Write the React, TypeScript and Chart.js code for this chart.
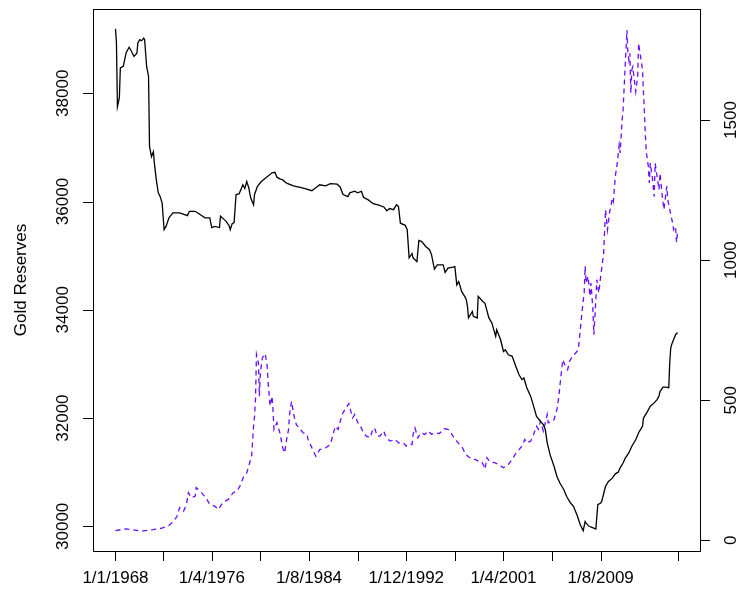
import { useEffect, useRef } from "react";
import { Chart, registerables } from "chart.js";

Chart.register(...registerables);

// Gold reserves (left axis) — index = month number from 1/1/1968
const reserveIdx = [1,2,3,5,6,9,12,15,17,20,23,24,26,28,30,31,33,35,36,38,40,41,43,45,47,49,51,53,56,60,67,75,77,83,88,93,98,100,103,108,109,112,115,118,119,121,123,125,128,130,132,134,136,138,140,143,144,147,151,157,162,165,167,170,173,177,184,191,196,203,208,211,217,222,229,232,235,240,242,247,250,254,256,261,266,271,277,280,283,287,290,292,294,299,301,303,306,307,311,313,316,320,324,326,329,332,338,340,343,348,350,352,354,357,361,362,363,364,368,369,373,374,379,381,385,388,392,393,397,400,402,405,409,412,416,419,421,424,428,431,434,438,441,443,445,448,452,455,458,462,465,469,472,476,479,482,484,485,488,491,495,497,500,501,505,508,512,515,518,520,523,525,529,532,536,539,543,544,548,551,555,558,560,561,564,567,570,571,572,573,575,577,579];
const reserveVals = [39190,38930,37750,37920,38470,38500,38750,38850,38790,38680,38740,38930,38990,38970,39020,38990,38500,38310,37020,36830,36920,36710,36400,36160,36090,35970,35480,35540,35700,35790,35790,35740,35820,35820,35760,35700,35700,35520,35540,35520,35730,35680,35630,35550,35480,35590,35610,36130,36140,36220,36310,36240,36370,36260,36070,35940,36130,36280,36370,36460,36530,36540,36450,36420,36400,36340,36290,36260,36240,36200,36270,36310,36290,36330,36320,36270,36130,36090,36160,36190,36160,36190,36080,36030,35960,35940,35900,35830,35870,35850,35940,35910,35600,35560,35480,34960,35040,34960,34890,35280,35260,35170,35110,35020,34750,34830,34830,34690,34770,34790,34800,34460,34520,34340,34220,34170,34060,33850,33970,33880,33850,34250,34150,34120,33850,33760,33510,33630,33450,33230,33260,33170,33140,32990,32800,32710,32740,32560,32400,32220,32030,31940,31880,31790,31540,31320,31110,30920,30800,30680,30550,30430,30370,30190,30030,29920,30090,30060,30000,29980,29950,30400,30430,30460,30740,30830,30890,30970,31000,31080,31170,31250,31360,31480,31600,31730,31850,32000,32120,32220,32280,32340,32410,32490,32570,32570,32560,33020,33290,33360,33450,33540,33580];

// Gold price (right axis)
const priceIdx = [1,12,28,40,48,55,60,64,67,71,74,76,79,83,84,88,91,95,98,103,107,110,114,117,122,126,129,133,136,139,141,143,144,145,146,148,149,150,152,155,157,158,160,162,163,164,167,170,173,175,177,179,180,182,185,187,191,194,198,199,203,207,211,217,222,227,230,234,237,241,243,245,247,251,253,256,259,263,266,268,270,273,277,278,281,284,289,292,297,300,302,306,307,309,312,315,319,323,326,330,334,339,343,346,350,352,356,358,361,364,368,371,374,378,381,383,386,391,395,400,405,409,412,416,419,422,424,428,431,434,436,438,441,443,445,446,450,452,455,457,458,461,463,466,468,470,473,477,479,481,483,484,485,487,489,490,492,493,495,496,498,500,503,505,507,509,512,513,515,517,519,520,521,522,523,524,525,527,528,529,530,531,532,533,536,538,539,541,543,544,545,546,547,549,550,551,553,555,556,558,560,561,563,565,568,569,571,574,575,577,578,579];
const priceVals = [35,41,33,38,43,50,65,84,117,104,128,170,152,158,188,176,164,146,128,122,110,128,140,146,170,176,194,229,241,277,300,407,443,503,663,633,514,598,651,666,621,562,479,514,467,396,420,384,330,312,360,396,449,496,437,413,396,384,378,360,330,300,324,330,342,407,396,449,467,488,461,437,449,413,407,384,372,366,401,396,372,372,390,378,360,354,360,348,348,336,342,342,378,401,366,384,378,390,378,384,381,398,396,384,360,354,336,330,307,298,289,289,283,280,254,295,280,277,271,259,271,289,307,324,336,360,348,354,378,407,396,425,390,419,449,419,425,431,467,514,550,645,627,609,639,651,663,681,752,823,883,978,918,942,871,918,823,734,859,930,883,942,1025,1180,1108,1168,1221,1209,1298,1346,1411,1382,1441,1500,1536,1607,1679,1821,1738,1714,1738,1596,1679,1690,1601,1655,1774,1726,1679,1596,1524,1441,1382,1334,1275,1346,1298,1227,1346,1298,1251,1310,1239,1180,1263,1215,1180,1132,1108,1120,1063,1100];

const xTickIdx = [1,50,100,150,200,250,300,350,400,450,500,579];
const xTickLabels = ["1/1/1968","","1/4/1976","","1/8/1984","","1/12/1992","","1/4/2001","","1/8/2009",""];
const leftTicks = [30000,32000,34000,36000,38000];
const rightTicks = [0,500,1000,1500];
const leftTitle = "Gold Reserves";

const FONT = '17px "Liberation Sans", Arial, Helvetica, sans-serif';

const rAxesPlugin = {
  id: "rAxes",
  afterDraw(chart: any) {
    const ctx = chart.ctx as CanvasRenderingContext2D;
    const { left, right, top, bottom } = chart.chartArea;
    const sx = chart.scales.x;
    const sy = chart.scales.y;
    const sy2 = chart.scales.y2;
    ctx.save();
    ctx.strokeStyle = "#000";
    ctx.fillStyle = "#000";
    ctx.lineWidth = 1;
    // box
    ctx.strokeRect(left + 0.5, top + 0.5, right - left, bottom - top);
    ctx.font = FONT;
    // bottom axis
    const bx0 = sx.getPixelForValue(xTickIdx[0]);
    const bx1 = sx.getPixelForValue(xTickIdx[xTickIdx.length - 1]);
    ctx.beginPath();
    ctx.moveTo(bx0, bottom + 0.5);
    ctx.lineTo(bx1, bottom + 0.5);
    xTickIdx.forEach((t) => {
      const px = Math.round(sx.getPixelForValue(t)) + 0.5;
      ctx.moveTo(px, bottom);
      ctx.lineTo(px, bottom + 10);
    });
    ctx.stroke();
    ctx.textAlign = "center";
    ctx.textBaseline = "middle";
    xTickIdx.forEach((t, i) => {
      const lbl = xTickLabels[i];
      if (lbl) ctx.fillText(lbl, sx.getPixelForValue(t), 578);
    });
    // left axis
    ctx.beginPath();
    ctx.moveTo(left + 0.5, sy.getPixelForValue(leftTicks[0]));
    ctx.lineTo(left + 0.5, sy.getPixelForValue(leftTicks[leftTicks.length - 1]));
    leftTicks.forEach((t) => {
      const py = Math.round(sy.getPixelForValue(t)) + 0.5;
      ctx.moveTo(left, py);
      ctx.lineTo(left - 10, py);
    });
    ctx.stroke();
    leftTicks.forEach((t) => {
      ctx.save();
      ctx.translate(63, sy.getPixelForValue(t));
      ctx.rotate(-Math.PI / 2);
      ctx.fillText(String(t), 0, 0);
      ctx.restore();
    });
    ctx.save();
    ctx.translate(21, (top + bottom) / 2);
    ctx.rotate(-Math.PI / 2);
    ctx.fillText(leftTitle, 0, 0);
    ctx.restore();
    // right axis
    ctx.beginPath();
    ctx.moveTo(right + 0.5, sy2.getPixelForValue(rightTicks[0]));
    ctx.lineTo(right + 0.5, sy2.getPixelForValue(rightTicks[rightTicks.length - 1]));
    rightTicks.forEach((t) => {
      const py = Math.round(sy2.getPixelForValue(t)) + 0.5;
      ctx.moveTo(right, py);
      ctx.lineTo(right + 10, py);
    });
    ctx.stroke();
    rightTicks.forEach((t) => {
      ctx.save();
      ctx.translate(731, sy2.getPixelForValue(t));
      ctx.rotate(-Math.PI / 2);
      ctx.fillText(String(t), 0, 0);
      ctx.restore();
    });
    ctx.restore();
  },
};

export default function App() {
  const canvasRef = useRef<HTMLCanvasElement | null>(null);

  useEffect(() => {
    const canvas = canvasRef.current;
    if (!canvas) return;
    const chart = new Chart(canvas, {
      type: "line",
      data: {
        datasets: [
          {
            label: "Gold Reserves",
            data: reserveIdx.map((x, i) => ({ x, y: reserveVals[i] })),
            yAxisID: "y",
            borderColor: "#000000",
            borderWidth: 1.3,
            pointRadius: 0,
            tension: 0,
            fill: false,
          },
          {
            label: "Gold Price",
            data: priceIdx.map((x, i) => ({ x, y: priceVals[i] })),
            yAxisID: "y2",
            borderColor: "#6a0dff",
            borderWidth: 1.3,
            borderDash: [5, 4],
            pointRadius: 0,
            tension: 0,
            fill: false,
          },
        ],
      },
      options: {
        animation: false,
        responsive: false,
        maintainAspectRatio: false,
        devicePixelRatio: 1,
        layout: { padding: { left: 93, right: 39, top: 9, bottom: 48 } },
        plugins: { legend: { display: false }, tooltip: { enabled: false } },
        scales: {
          x: { type: "linear", min: -22.12, max: 602.12, display: false },
          y: { type: "linear", min: 29544, max: 39557, display: false },
          y2: { type: "linear", min: -38, max: 1896, display: false },
        },
      },
      plugins: [rAxesPlugin],
    });
    return () => chart.destroy();
  }, []);

  return (
    <canvas
      ref={canvasRef}
      width={739}
      height={599}
      style={{ position: "absolute", left: 0, top: 0, display: "block" }}
    />
  );
}
